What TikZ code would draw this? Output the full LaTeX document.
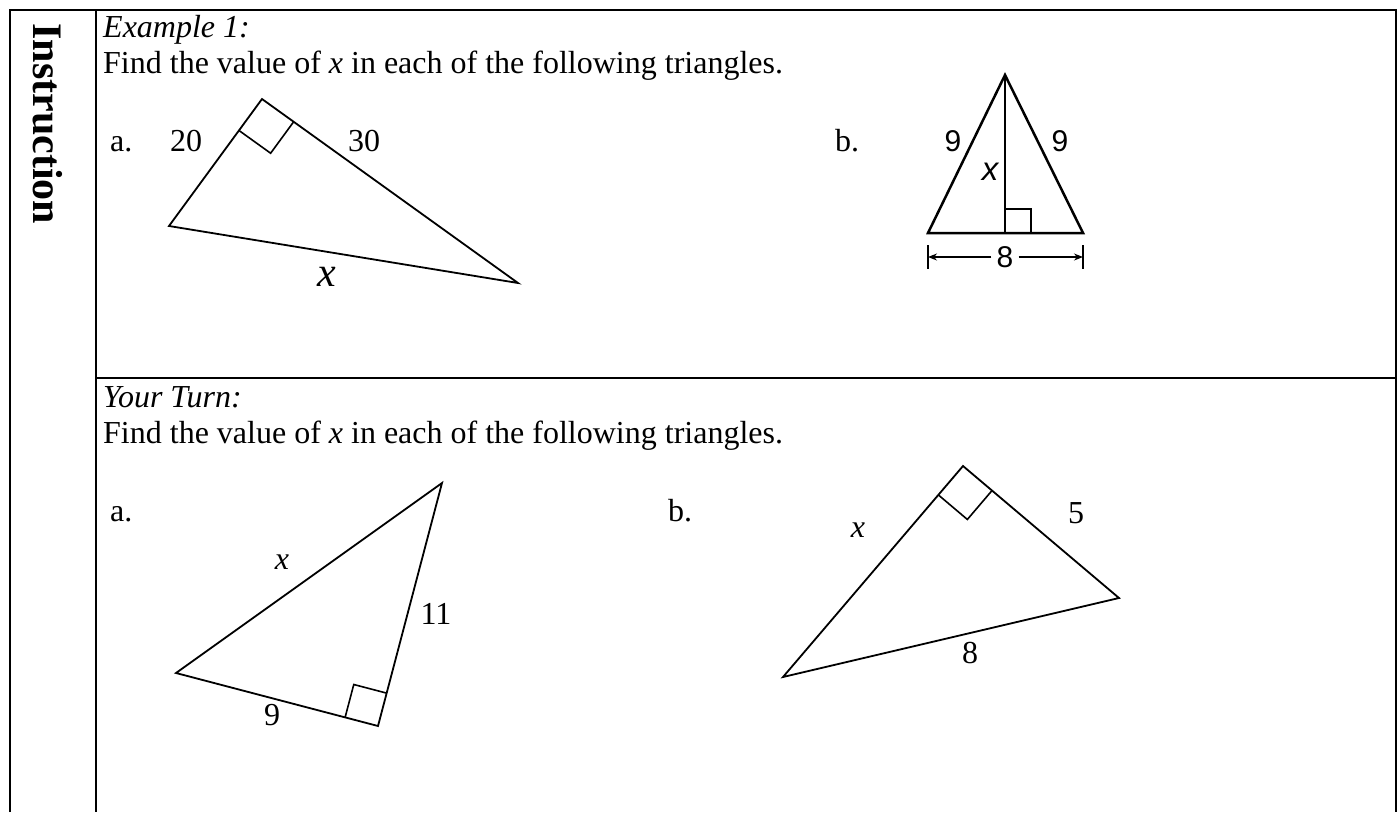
\documentclass[tikz,border=0pt]{standalone}
\usepackage{fontspec}
\setmainfont{Liberation Serif}
\newfontfamily\sansfont{Liberation Sans}
\usetikzlibrary{calc,arrows.meta}
\begin{document}
\begin{tikzpicture}[x=1pt,y=-1pt,
  tbl/.style={line width=2pt},
  tri/.style={line width=1.8pt, line join=miter},
  sq/.style={line width=1.6pt},
  txt/.style={inner sep=0pt, font=\fontsize{32}{38}\selectfont},
  sl/.style={inner sep=0pt, font=\sansfont\fontsize{30}{36}\selectfont}]
\useasboundingbox (0,0) rectangle (1398,812);
% table
\draw[tbl] (10,812) -- (10,9.5) -- (1396,9.5) -- (1396,812);
\draw[tbl] (96,9.5) -- (96,812);
\draw[tbl] (96,378) -- (1396,378);
\node[rotate=-90, inner sep=0pt, font=\bfseries\fontsize{42}{48}\selectfont] (instr) at (48,124) {Instruction};
% row 1 text
\node[txt, anchor=base west] (ex) at (103,37) {\textit{Example 1:}};
\node[txt, anchor=base west] (find1) at (103,73) {Find the value of \textit{x} in each of the following triangles.};
% example a
\coordinate (A1) at (262,99);
\coordinate (B1) at (169,226);
\coordinate (C1) at (518,283);
\draw[tri] (A1) -- (B1) -- (C1) -- cycle;
\coordinate (s1a) at ($(A1)!39pt!(B1)$);
\coordinate (s1b) at ($(A1)!39pt!(C1)$);
\draw[sq] (s1a) -- ($(s1a)+(s1b)-(A1)$) -- (s1b);
\node[txt, anchor=base west] (la1) at (110,151) {a.};
\node[txt, anchor=base west] (l20) at (170,151) {20};
\node[txt, anchor=base west] (l30) at (348,151) {30};
\node[inner sep=0pt, font=\itshape\fontsize{42}{48}\selectfont] (lx1) at (327,277) {x};
% example b
\node[txt, anchor=base west] (lb1) at (835,151) {b.};
\coordinate (P) at (1005,75);
\coordinate (Q) at (928,233);
\coordinate (R) at (1083,233);
\coordinate (F) at (1005,233);
\draw[line width=2.5pt, line join=miter] (P) -- (Q) -- (R) -- cycle;
\draw[line width=2.5pt] (P) -- (F);
\draw[line width=1.5pt] (1005,209) -- (1031,209) -- (1031,233);
\node[sl] (n9a) at (953,141) {9};
\node[sl] (n9b) at (1060,141) {9};
\node[sl, font=\sansfont\itshape\fontsize{33}{36}\selectfont] (nx) at (990,172) {x};
\node[sl, inner xsep=5pt] (n8) at (1005,257) {8};
\coordinate (tL) at (928,257);
\coordinate (tR) at (1083,257);
\draw[line width=1.4pt] (928,245) -- (928,269);
\draw[line width=1.4pt] (1083,245) -- (1083,269);
\draw[line width=1.2pt, -{Stealth[length=9pt,width=7pt]}] (n8.west) -- (tL);
\draw[line width=1.2pt, -{Stealth[length=9pt,width=7pt]}] (n8.east) -- (tR);
% row 2 text
\node[txt, anchor=base west] (yt) at (103,407) {\textit{Your Turn:}};
\node[txt, anchor=base west] (find2) at (103,443) {Find the value of \textit{x} in each of the following triangles.};
% your turn a
\node[txt, anchor=base west] (la2) at (110,521) {a.};
\coordinate (A2) at (442,483);
\coordinate (B2) at (176,673);
\coordinate (C2) at (378,726);
\draw[tri] (A2) -- (B2) -- (C2) -- cycle;
\coordinate (s2a) at ($(C2)!34pt!(B2)$);
\coordinate (s2b) at ($(C2)!34pt!(A2)$);
\draw[sq] (s2a) -- ($(s2a)+(s2b)-(C2)$) -- (s2b);
\node[txt, font=\itshape\fontsize{32}{38}\selectfont] (lx2) at (282,562) {x};
\node[txt] (l11) at (436,614) {11};
\node[txt] (l9) at (272,715) {9};
% your turn b
\node[txt, anchor=base west] (lb2) at (668,521) {b.};
\coordinate (A3) at (963,466);
\coordinate (B3) at (783,677);
\coordinate (C3) at (1119,598);
\draw[tri] (A3) -- (B3) -- (C3) -- cycle;
\coordinate (s3a) at ($(A3)!38pt!(B3)$);
\coordinate (s3b) at ($(A3)!38pt!(C3)$);
\draw[sq] (s3a) -- ($(s3a)+(s3b)-(A3)$) -- (s3b);
\node[txt, font=\itshape\fontsize{32}{38}\selectfont] (lx3) at (858,530) {x};
\node[txt] (l5) at (1076,513) {5};
\node[txt] (l8) at (970,653) {8};
\end{tikzpicture}
\end{document}
